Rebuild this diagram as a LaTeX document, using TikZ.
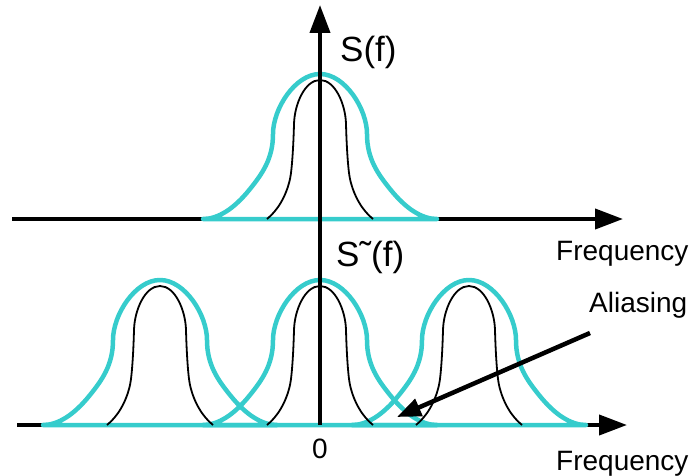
\documentclass[tikz,border=0pt]{standalone}
\usepackage{fontspec}
\setmainfont{Liberation Sans}
\usetikzlibrary{arrows.meta}
\definecolor{aqua}{RGB}{54,204,204}
\begin{document}
\begin{tikzpicture}[x=1pt,y=-1pt,
  axisline/.style={line width=4pt, -{Triangle[length=28pt,width=20pt]}},
  outer/.style={aqua, line width=4.5pt, line join=round},
  inner/.style={black, line width=1.8pt},
  lbl/.style={font=\fontsize{28}{32}\selectfont, inner sep=0pt},
  big/.style={font=\fontsize{35}{40}\selectfont, inner sep=0pt},
  outerbump/.pic={\draw[outer] (-117,0) .. controls (-102,0) and (-86,-10) .. (-70,-30)
      .. controls (-58,-45) and (-47,-60) .. (-47,-85)
      .. controls (-47,-110) and (-25,-145) .. (0,-145)
      .. controls (25,-145) and (47,-110) .. (47,-85)
      .. controls (47,-60) and (58,-45) .. (70,-30)
      .. controls (86,-10) and (102,0) .. (117,0) -- cycle;},
  innerbump/.pic={\draw[inner] (-53,0) .. controls (-43,-8) and (-34,-22) .. (-30,-40)
      .. controls (-28,-49) and (-26.5,-75) .. (-26,-95)
      .. controls (-25.5,-115) and (-15,-139) .. (0,-139)
      .. controls (15,-139) and (25.5,-115) .. (26,-95)
      .. controls (26.5,-75) and (28,-49) .. (30,-40)
      .. controls (34,-22) and (43,-8) .. (53,0);},
  ]
\useasboundingbox (0,0) rectangle (691,476);
\coordinate (tl) at (12,219);
\coordinate (tr) at (623,219);
\coordinate (bl) at (17,425);
\coordinate (br) at (627,425);
\coordinate (vb) at (320,425);
\coordinate (vt) at (320,5);
\draw[axisline] (tl) -- (tr);
\draw[axisline] (bl) -- (br);
\pic at (320,219) {outerbump};
\foreach \c in {160,320,469} \pic at (\c,425) {outerbump};
\pic at (320,219) {innerbump};
\foreach \c in {160,320,469} \pic at (\c,425) {innerbump};
\draw[axisline] (vb) -- (vt);
\coordinate (as) at (590,333);
\coordinate (ae) at (397,417);
\draw[line width=4.5pt, -{Triangle[length=24pt,width=18pt]}] (as) -- (ae);
\node[big, anchor=base west] (sf) at (340,62) {S(f)};
\node[big, anchor=base west] (sf2) at (336,266) {S˜(f)};
\node[lbl, anchor=base west] (f1) at (556,260) {Frequency};
\node[lbl, anchor=base west] (f2) at (556,470) {Frequency};
\node[lbl, anchor=base west] (al) at (589,312) {Aliasing};
\node[lbl, anchor=base] (zero) at (320,458) {0};
\end{tikzpicture}
\end{document}
